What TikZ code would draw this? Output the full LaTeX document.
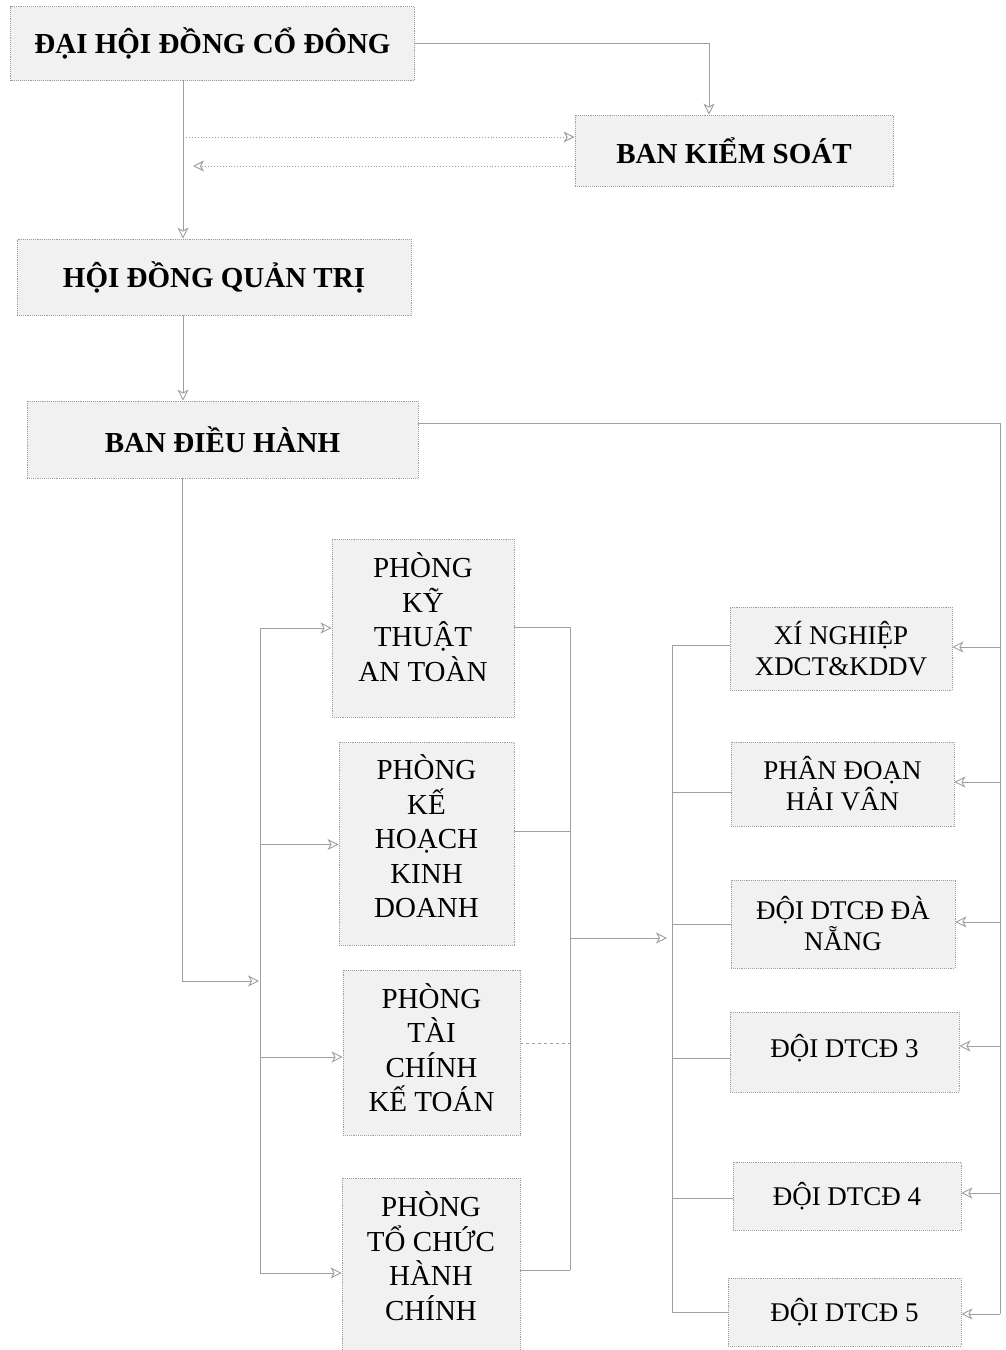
\documentclass[tikz,border=0pt]{standalone}
\usepackage{fontspec}
\setmainfont{Liberation Serif}
\usetikzlibrary{arrows.meta,calc}
\begin{document}
\begin{tikzpicture}[x=1pt,y=-1pt,
 box/.style={draw=gray!75, densely dotted, line width=0.9pt, fill=gray!11, inner sep=0pt, align=center, text=black},
 big/.style={box, font=\fontsize{29}{35}\selectfont\bfseries},
 mid/.style={box},
 midtext/.style={inner sep=0pt, align=center, text=black, font=\fontsize{29}{34.5}\selectfont},
 rgt/.style={box, font=\fontsize{27}{31}\selectfont},
 conn/.style={draw=gray!75, line width=0.9pt},
 arr/.style={conn, -{Stealth[open, length=11pt, width=11pt, inset=3pt]}},
 darr/.style={arr, dotted, line width=1pt},
 dashconn/.style={conn, dashed},
]
\useasboundingbox (0,0) rectangle (1006,1350);
\clip (0,0) rectangle (1006,1350);

% nodes
\node[big, minimum width=404pt, minimum height=74pt] (dh) at (212.5,43.5) {ĐẠI HỘI ĐỒNG CỔ ĐÔNG};
\node[big, minimum width=318pt, minimum height=71pt] (bks) at (734,150.5) {BAN KIỂM SOÁT};
\node[big, minimum width=394pt, minimum height=76pt] (hdqt) at (214,277) {HỘI ĐỒNG QUẢN TRỊ};
\node[big, minimum width=391pt, minimum height=77pt] (bdh) at (222.5,439.5) {BAN ĐIỀU HÀNH};

\node[mid, minimum width=182pt, minimum height=178pt] (ktat) at (423,628) {};
\node[midtext] (ktatT) at ([yshift=11pt]ktat.center) {PHÒNG\\KỸ\\THUẬT\\AN TOÀN};
\node[mid, minimum width=175pt, minimum height=203pt] (khkd) at (426.5,843.5) {};
\node[midtext] (khkdT) at ([yshift=7pt]khkd.center) {PHÒNG\\KẾ\\HOẠCH\\KINH\\DOANH};
\node[mid, minimum width=177pt, minimum height=165pt] (tckt) at (431.5,1052.5) {};
\node[midtext] (tcktT) at ([yshift=5pt]tckt.center) {PHÒNG\\TÀI\\CHÍNH\\KẾ TOÁN};
\node[mid, minimum width=178pt, minimum height=178pt] (tchc) at (431,1267) {};
\node[midtext] (tchcT) at ([yshift=11pt]tchc.center) {PHÒNG\\TỔ CHỨC\\HÀNH\\CHÍNH};

\node[rgt, minimum width=222pt, minimum height=83pt] (xn) at (841,648.5) {XÍ NGHIỆP\\XDCT\&KDDV};
\node[rgt, minimum width=223pt, minimum height=84pt] (pdhv) at (842.5,784) {PHÂN ĐOẠN\\HẢI VÂN};
\node[rgt, minimum width=224pt, minimum height=88pt] (dn) at (843,924) {ĐỘI DTCĐ ĐÀ\\NẴNG};
\node[rgt, minimum width=229pt, minimum height=80pt] (d3) at (844.5,1052) {\raisebox{4pt}[\height][\depth]{ĐỘI DTCĐ 3}};
\node[rgt, minimum width=228pt, minimum height=68pt] (d4) at (847,1196) {ĐỘI DTCĐ 4};
\node[rgt, minimum width=233pt, minimum height=68pt] (d5) at (844.5,1312) {ĐỘI DTCĐ 5};

% helper coordinates
\coordinate (V) at (183,0);
\coordinate (Vb) at (182,0);
\coordinate (Lb) at (260,0);
\coordinate (Mb) at (570,0);
\coordinate (Rb1) at (672,0);
\coordinate (Rb) at (1000,0);

% top part
\draw[arr] (dh.east) -| ([xshift=-25pt]bks.north);
\draw[arr] (V |- dh.south) -- (V |- hdqt.north);
\coordinate (p1) at (186,137);
\coordinate (p2) at (193,166);
\draw[darr] (p1) -- (p1 -| bks.west);
\draw[darr] (p2 -| bks.west) -- (p2);
\draw[arr] (V |- hdqt.south) -- (V |- bdh.north);

% BAN DIEU HANH to left bus
\coordinate (q) at (259,981);
\draw[arr] (Vb |- bdh.south) |- (q);

% left bus to departments
\coordinate (ktW) at (ktat.west);
\coordinate (khW) at ([yshift=-1pt]khkd.west);
\coordinate (tcW) at ([yshift=-4.5pt]tckt.west);
\coordinate (thW) at ([yshift=-6pt]tchc.west);
\draw[conn] (Lb |- ktW) -- (Lb |- thW);
\foreach \c in {ktW,khW,tcW,thW} \draw[arr] (Lb |- \c) -- (\c);

% departments to middle bus
\coordinate (ktE) at ([yshift=1pt]ktat.east);
\coordinate (khE) at ([yshift=12.5pt]khkd.east);
\coordinate (tcE) at ([yshift=9.5pt]tckt.east);
\coordinate (thE) at ([yshift=-3pt]tchc.east);
\draw[conn] (Mb |- ktE) -- (Mb |- thE);
\draw[conn] (ktE) -- (Mb |- ktE);
\draw[conn] (khE) -- (Mb |- khE);
\draw[dashconn] (tcE) -- (Mb |- tcE);
\draw[conn] (thE) -- (Mb |- thE);
\coordinate (mt) at (667,938);
\draw[arr] (Mb |- mt) -- (mt);

% right column left bus
\coordinate (xnW) at ([yshift=3.5pt]xn.west);
\coordinate (pdW) at ([yshift=-8pt]pdhv.west);
\coordinate (dnW) at (dn.west);
\coordinate (d3W) at ([yshift=-6pt]d3.west);
\coordinate (d4W) at ([yshift=-2pt]d4.west);
\coordinate (d5W) at (d5.west);
\draw[conn] (Rb1 |- xnW) -- (Rb1 |- d5W);
\foreach \c in {xnW,pdW,dnW,d3W,d4W,d5W} \draw[conn] (Rb1 |- \c) -- (\c);

% right bus from BAN DIEU HANH
\coordinate (xnE) at ([yshift=1.5pt]xn.east);
\coordinate (pdE) at ([yshift=2pt]pdhv.east);
\coordinate (dnE) at ([yshift=2pt]dn.east);
\coordinate (d3E) at ([yshift=6pt]d3.east);
\coordinate (d4E) at ([yshift=3pt]d4.east);
\coordinate (d5E) at ([yshift=-2pt]d5.east);
\draw[conn] ([yshift=16.5pt]bdh.east) -| (Rb |- d5E);
\foreach \c in {xnE,pdE,dnE,d3E,d4E,d5E} \draw[arr] (Rb |- \c) -- (\c);
\end{tikzpicture}
\end{document}
